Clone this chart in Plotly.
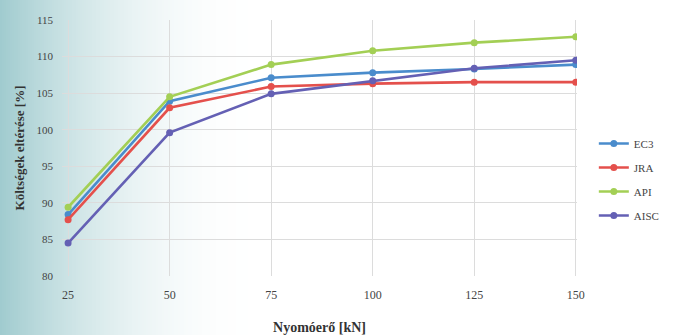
import plotly.graph_objects as go

# Compressive force levels [kN]
force_kn = [25, 50, 75, 100, 125, 150]

# Cost deviation [%] per design code
ec3 = [88.4, 103.9, 107.1, 107.8, 108.3, 108.9]
jra = [87.7, 103.0, 105.9, 106.3, 106.5, 106.5]
api = [89.4, 104.5, 108.9, 110.8, 111.9, 112.7]
aisc = [84.5, 99.6, 104.9, 106.7, 108.4, 109.5]

series_names = ["EC3", "JRA", "API", "AISC"]
series_values = [ec3, jra, api, aisc]
series_colors = ["#4a8ccc", "#e4504c", "#a3cf55", "#6460b4"]

x_ticks = [25, 50, 75, 100, 125, 150]
y_ticks = [80, 85, 90, 95, 100, 105, 110, 115]

W, H = 681, 335
ML, MR, MT, MB = 62, 104, 20, 59
plot_w = W - ML - MR
plot_h = H - MT - MB

fig = go.Figure()
for name, vals, col in zip(series_names, series_values, series_colors):
    fig.add_trace(go.Scatter(
        x=force_kn, y=vals, name=name, legendgroup=name,
        mode="lines+markers",
        line=dict(color=col, width=2.6),
        marker=dict(color=col, size=7),
    ))

# Soft teal tint fading in from the left page edge
shapes = []
span_px = 260
step = 2
for p0 in range(0, span_px, step):
    p1 = p0 + step
    a = 0.6 * (1 - (p0 + p1) / 2 / span_px) ** 2.0
    shapes.append(dict(
        type="rect", layer="below", xref="paper", yref="paper",
        x0=(p0 - ML) / plot_w, x1=(p1 - ML) / plot_w,
        y0=-MB / plot_h - 0.05, y1=1 + MT / plot_h + 0.05,
        line=dict(width=0), fillcolor=f"rgba(96,168,174,{a:.3f})",
    ))

serif = "Liberation Serif, Times New Roman, DejaVu Serif, serif"
fig.update_layout(
    width=W, height=H,
    margin=dict(l=ML, r=MR, t=MT, b=MB),
    paper_bgcolor="white", plot_bgcolor="rgba(0,0,0,0)",
    shapes=shapes,
    font=dict(family=serif, size=10, color="#444"),
    showlegend=True,
    legend=dict(
        xref="container", yref="container", x=0.872, y=0.615,
        xanchor="left", yanchor="top",
        font=dict(family=serif, size=11, color="#444"),
        bgcolor="rgba(0,0,0,0)", tracegroupgap=5,
        itemwidth=30,
    ),
    xaxis=dict(
        range=[23.5, 150.3], tickvals=x_ticks, ticktext=[str(v) for v in x_ticks],
        showgrid=True, gridcolor="#dcdcdc", gridwidth=1,
        zeroline=False, showline=False, ticks="", ticklen=0,
        automargin=False, ticklabelstandoff=10,
        title=dict(text="<b>Nyomóerő [kN]</b>", font=dict(family=serif, size=14, color="#333"), standoff=22),
        tickfont=dict(family=serif, size=12, color="#444"),
    ),
    yaxis=dict(
        range=[80, 115], tickvals=y_ticks,
        showgrid=True, gridcolor="#dcdcdc", gridwidth=1,
        zeroline=False, showline=False, ticks="",
        automargin=False, ticklabelstandoff=8,
        title=dict(text="<b>Költségek eltérése [%]</b>", font=dict(family=serif, size=13, color="#333"), standoff=8),
        tickfont=dict(family=serif, size=11, color="#444"),
    ),
)

fig.write_html("out.html")
